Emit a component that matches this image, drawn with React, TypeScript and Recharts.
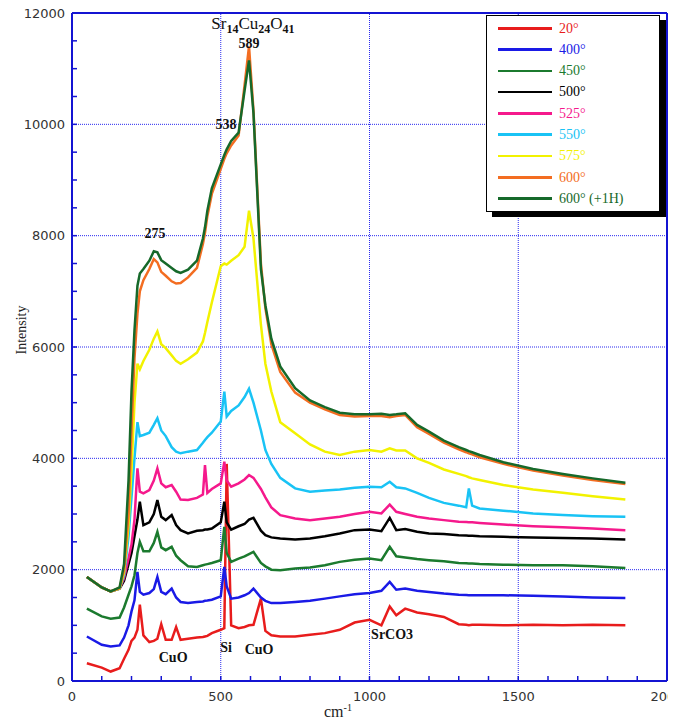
import { Label, Line, LineChart, ReferenceDot, ReferenceLine, XAxis, YAxis } from "recharts";

// Raman spectra of Sr14Cu24O41 films, one trace per annealing temperature.
const WAVENUMBER = [
  50, 100, 130, 160, 175, 190, 200, 210, 220, 228,
  240, 260, 275, 287, 300, 315, 335, 350, 365, 390,
  420, 440, 447, 455, 470, 500, 512, 520, 535, 560,
  580, 595, 610, 635, 650, 670, 700, 750, 800, 850,
  900, 950, 1000, 1040, 1068, 1090, 1120, 1160, 1200, 1250,
  1300, 1325, 1334, 1345, 1370, 1450, 1550, 1650, 1750, 1860,
];

const T20 = [
  320, 240, 170, 230, 400, 560, 720, 780, 920, 1370,
  820, 700, 720, 760, 1020, 740, 740, 970, 740, 760,
  780, 790, 800, 810, 860, 920, 950, 3900, 1000, 950,
  970, 1000, 1010, 1480, 900, 820, 800, 800, 830, 860,
  920, 1050, 1100, 1000, 1340, 1180, 1300, 1230, 1200, 1150,
  1020, 1010, 1000, 1010, 1010, 1000, 1010, 1000, 1010, 1000,
];
const T400 = [
  800, 650, 620, 640, 780, 1000, 1250, 1450, 1960, 1600,
  1550, 1580, 1650, 1870, 1600, 1560, 1660, 1500, 1420, 1400,
  1420, 1430, 1440, 1445, 1460, 1520, 2050, 1700, 1480, 1500,
  1540, 1580, 1660, 1500, 1440, 1400, 1400, 1420, 1440, 1480,
  1520, 1560, 1580, 1620, 1780, 1640, 1660, 1620, 1600, 1570,
  1550, 1545, 1540, 1540, 1540, 1540, 1530, 1520, 1500, 1490,
];
const T450 = [
  1300, 1160, 1120, 1140, 1320, 1550, 1700, 1900, 2300, 2500,
  2330, 2330, 2480, 2680, 2400, 2350, 2410, 2250, 2170, 2060,
  2050, 2080, 2090, 2100, 2120, 2170, 2770, 2300, 2140, 2200,
  2240, 2280, 2320, 2120, 2060, 2000, 1990, 2020, 2040, 2080,
  2140, 2180, 2200, 2170, 2410, 2240, 2220, 2190, 2170, 2150,
  2120, 2115, 2110, 2110, 2100, 2090, 2080, 2080, 2060, 2030,
];
const T500 = [
  1870, 1680, 1610, 1660, 1800, 2100, 2300, 2600, 2900, 3220,
  2800, 2850, 3000, 3250, 2950, 2890, 2980, 2800, 2710, 2650,
  2700, 2710, 2720, 2720, 2740, 2850, 3220, 2850, 2720, 2780,
  2820, 2900, 2930, 2700, 2620, 2580, 2560, 2540, 2560, 2600,
  2650, 2710, 2720, 2690, 2930, 2710, 2730, 2680, 2650, 2640,
  2620, 2615, 2610, 2610, 2600, 2590, 2580, 2570, 2560, 2540,
];
const T525 = [
  1870, 1680, 1610, 1660, 1850, 2200, 2450, 2900, 3820, 3400,
  3370, 3430, 3600, 3820, 3550, 3480, 3520, 3400, 3260, 3250,
  3290, 3350, 3880, 3380, 3450, 3550, 3940, 3600, 3490, 3550,
  3620, 3700, 3650, 3450, 3300, 3120, 2980, 2920, 2890, 2920,
  2950, 3000, 3040, 3010, 3170, 3040, 3000, 2950, 2920, 2890,
  2860, 2855, 2850, 2850, 2840, 2810, 2780, 2760, 2740, 2710,
];
const T550 = [
  1870, 1680, 1610, 1660, 1900, 2600, 3300, 4000, 4650, 4400,
  4420, 4460, 4600, 4720, 4500, 4400, 4200, 4120, 4090, 4120,
  4150, 4280, 4330, 4380, 4460, 4660, 5200, 4750, 4850, 4950,
  5100, 5250, 5000, 4500, 4150, 3900, 3650, 3460, 3400, 3420,
  3440, 3470, 3490, 3480, 3580, 3480, 3460, 3380, 3290, 3200,
  3150, 3120, 3460, 3150, 3100, 3060, 3010, 2980, 2960, 2950,
];
const T575 = [
  1870, 1680, 1610, 1660, 1950, 2800, 3800, 5000, 5700, 5600,
  5750, 5950, 6150, 6280, 6050, 5980, 5850, 5750, 5700, 5780,
  5900, 6100, 6250, 6450, 6800, 7450, 7500, 7480, 7550, 7650,
  7800, 8450, 7950, 6400, 5700, 5200, 4650, 4450, 4250, 4120,
  4060, 4120, 4150, 4120, 4180, 4140, 4140, 4000, 3920, 3800,
  3720, 3680, 3660, 3640, 3610, 3520, 3440, 3380, 3320, 3260,
];
const T600 = [
  1870, 1680, 1610, 1670, 2000, 3000, 4500, 5800, 6600, 7000,
  7200, 7400, 7580, 7520, 7350, 7280, 7180, 7140, 7150, 7250,
  7420, 7850, 8050, 8350, 8750, 9200, 9380, 9480, 9620, 9800,
  10700, 11400, 10250, 7500, 6700, 6050, 5550, 5180, 5000, 4880,
  4780, 4750, 4760, 4760, 4740, 4760, 4780, 4560, 4440, 4280,
  4160, 4110, 4090, 4070, 4020, 3900, 3780, 3690, 3610, 3540,
];
const T600H = [
  1870, 1680, 1610, 1680, 2100, 3600, 5200, 6300, 7100, 7320,
  7400, 7550, 7720, 7700, 7560, 7500, 7420, 7360, 7330, 7390,
  7550, 7950, 8150, 8450, 8850, 9280, 9450, 9550, 9700, 9850,
  10600, 11150, 10200, 7400, 6750, 6150, 5650, 5260, 5040, 4920,
  4820, 4790, 4790, 4800, 4780, 4790, 4810, 4600, 4480, 4320,
  4200, 4150, 4130, 4110, 4060, 3930, 3810, 3720, 3640, 3560,
];

const SERIES_KEYS = ["t20", "t400", "t450", "t500", "t525", "t550", "t575", "t600", "t600h"];
const SERIES_NAMES = ["20°", "400°", "450°", "500°", "525°", "550°", "575°", "600°", "600° (+1H)"];
const SERIES_VALUES = [T20, T400, T450, T500, T525, T550, T575, T600, T600H];
const SERIES_COLORS = [
  "#e81c1c", "#1a1ae6", "#1b7a2e", "#000000", "#f5198c",
  "#19c3f5", "#f2f200", "#f36d21", "#16692a",
];

const X_TICKS = [
  0, 100, 200, 300, 400, 500, 600, 700, 800, 900, 1000,
  1100, 1200, 1300, 1400, 1500, 1600, 1700, 1800, 1900, 2000,
];
const Y_TICKS = [
  0, 500, 1000, 1500, 2000, 2500, 3000, 3500, 4000, 4500, 5000, 5500, 6000,
  6500, 7000, 7500, 8000, 8500, 9000, 9500, 10000, 10500, 11000, 11500, 12000,
];
const GRID_X = [500, 1000, 1500];
const GRID_Y = [2000, 4000, 6000, 8000, 10000];

const PEAK_NOTES = [
  { text: "589", x: 595, y: 11450 },
  { text: "538", x: 518, y: 10000 },
  { text: "275", x: 279, y: 8030 },
  { text: "CuO", x: 340, y: 430 },
  { text: "Si", x: 518, y: 610 },
  { text: "CuO", x: 629, y: 560 },
  { text: "SrCO3", x: 1076, y: 840 },
];

const data = WAVENUMBER.map((x, i) => {
  const row: Record<string, number> = { x };
  SERIES_KEYS.forEach((k, s) => (row[k] = SERIES_VALUES[s][i]));
  return row;
});

const AXIS = "#1414d2";
const GRIDC = "#2a2af0";
const SERIF = "'Liberation Serif', 'Times New Roman', serif";
const TICK = { fill: "#333", fontSize: 13, fontFamily: "'DejaVu Sans', sans-serif" };

function YTitle(props: any) {
  const vb = props.viewBox;
  const cx = vb.x + 21;
  const cy = vb.y + vb.height / 2 - 17;
  return (
    <text x={cx} y={cy} transform={`rotate(-90 ${cx} ${cy})`} textAnchor="middle"
      dominantBaseline="central" fontFamily={SERIF} fontSize={14} fill="#222">
      Intensity
    </text>
  );
}

function XTitle(props: any) {
  const vb = props.viewBox;
  return (
    <text x={vb.x + 252} y={vb.y + 36} fontFamily={SERIF} fontSize={16} fill="#222">
      cm<tspan dy={-6} fontSize={10}>-1</tspan>
    </text>
  );
}

function Formula(props: any) {
  return (
    <text x={props.cx} y={props.cy} textAnchor="middle" fontFamily={SERIF} fontSize={17} fill="#111">
      Sr<tspan fontSize={12} fontWeight="bold" dy={4}>14</tspan>
      <tspan dy={-4}>Cu</tspan>
      <tspan fontSize={12} fontWeight="bold" dy={4}>24</tspan>
      <tspan dy={-4}>O</tspan>
      <tspan fontSize={12} fontWeight="bold" dy={4}>41</tspan>
    </text>
  );
}

function note(text: string) {
  return (props: any) => (
    <text x={props.cx} y={props.cy} textAnchor="middle" dominantBaseline="central"
      fontFamily={SERIF} fontSize={14} fontWeight="bold" fill="#111">
      {text}
    </text>
  );
}

export default function App() {
  return (
    <div style={{ position: "relative", width: 676, height: 720, marginTop: -8, marginLeft: -8 }}>
      <style>{"html,body{overflow:hidden}"}</style>
      <LineChart width={676} height={720} data={data} margin={{ top: 0, right: 0, bottom: 0, left: 0 }}>
        <XAxis
          type="number"
          dataKey="x"
          domain={[0, 2000]}
          ticks={X_TICKS}
          interval={0}
          allowDataOverflow
          height={39}
          tickSize={-5}
          tickMargin={16}
          tick={TICK}
          tickFormatter={(v) => (v % 500 === 0 ? String(v) : "")}
          axisLine={{ stroke: AXIS, strokeWidth: 2 }}
          tickLine={{ stroke: AXIS, strokeWidth: 1.5 }}
          label={<Label content={XTitle} />}
        />
        <XAxis
          xAxisId="top"
          orientation="top"
          type="number"
          domain={[0, 2000]}
          ticks={X_TICKS}
          interval={0}
          height={13}
          tickSize={-5}
          tick={false}
          axisLine={{ stroke: AXIS, strokeWidth: 2 }}
          tickLine={{ stroke: AXIS, strokeWidth: 1.5 }}
        />
        <YAxis
          type="number"
          domain={[0, 12000]}
          ticks={Y_TICKS}
          interval={0}
          allowDataOverflow
          width={72}
          tickSize={-5}
          tickMargin={12}
          tick={TICK}
          tickFormatter={(v) => (v % 2000 === 0 ? String(v) : "")}
          axisLine={{ stroke: AXIS, strokeWidth: 2 }}
          tickLine={{ stroke: AXIS, strokeWidth: 1.5 }}
          label={<Label content={YTitle} />}
        />
        <YAxis
          yAxisId="right"
          orientation="right"
          type="number"
          domain={[0, 12000]}
          ticks={Y_TICKS}
          interval={0}
          width={9}
          tickSize={-5}
          tick={false}
          axisLine={{ stroke: AXIS, strokeWidth: 2 }}
          tickLine={{ stroke: AXIS, strokeWidth: 1.5 }}
        />
        {GRID_X.map((v) => (
          <ReferenceLine key={`gx${v}`} x={v} stroke={GRIDC} strokeDasharray="1 1" />
        ))}
        {GRID_Y.map((v) => (
          <ReferenceLine key={`gy${v}`} y={v} stroke={GRIDC} strokeDasharray="1 1" />
        ))}
        {SERIES_KEYS.map((k, s) => (
          <Line
            key={k}
            type="linear"
            dataKey={k}
            stroke={SERIES_COLORS[s]}
            strokeWidth={2.5}
            dot={false}
            isAnimationActive={false}
          />
        ))}
        <ReferenceDot x={608} y={11712} r={0} shape={Formula} />
        {PEAK_NOTES.map((n, i) => (
          <ReferenceDot key={`n${i}`} x={n.x} y={n.y} r={0} shape={note(n.text)} />
        ))}
      </LineChart>
      <div
        style={{
          position: "absolute",
          left: 486,
          top: 15,
          width: 172,
          height: 193,
          border: "1.5px solid #000",
          boxShadow: "6px 5px 0 #000",
          background: "#fff",
          paddingTop: 1.5,
          fontFamily: SERIF,
          fontSize: 14,
        }}
      >
        {SERIES_NAMES.map((name, s) => (
          <div key={name} style={{ position: "relative", height: 21.3 }}>
            <span
              style={{
                position: "absolute",
                left: 11,
                top: 9.5,
                width: 54,
                height: 2.5,
                background: SERIES_COLORS[s],
              }}
            />
            <span
              style={{
                position: "absolute",
                left: 72,
                top: 2,
                color: SERIES_COLORS[s],
                lineHeight: "18px",
                whiteSpace: "nowrap",
              }}
            >
              {name}
            </span>
          </div>
        ))}
      </div>
    </div>
  );
}
